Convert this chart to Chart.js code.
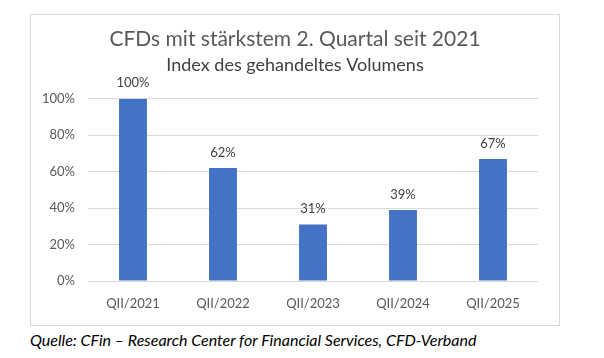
<!DOCTYPE html>
<html>
<head>
<meta charset="utf-8">
<script src="https://cdn.jsdelivr.net/npm/chart.js@4/dist/chart.umd.min.js"></script>
<style>
  body { margin: 0; background: #fff; font-family: Lato, sans-serif; }
  #frame { position: absolute; left: 30px; top: 14px; width: 528px; height: 310px; border: 1px solid #d9d9d9; }
  #source { position: absolute; left: 30px; top: 330px; font-style: italic; font-size: 16px; color: #000; white-space: nowrap; }
</style>
</head>
<body>
<div id="frame"><canvas id="chart-bars" width="528" height="310"></canvas></div>
<div id="source">Quelle: CFin – Research Center for Financial Services, CFD-Verband</div>
<script>
const categories = ['QII/2021', 'QII/2022', 'QII/2023', 'QII/2024', 'QII/2025']
const volumeIndex = [100, 62, 31, 39, 67]
const yTicks = [0, 20, 40, 60, 80, 100]

/* simple value labels above each bar */
const barLabels = {
    id: 'barLabels',
    afterDatasetsDraw(chart) {
        const ctx = chart.ctx
        ctx.save()
        ctx.font = '13px Lato'
        ctx.fillStyle = '#404040'
        ctx.textAlign = 'center'
        ctx.textBaseline = 'bottom'
        chart.getDatasetMeta(0).data.forEach((bar, i) => {
            ctx.fillText(volumeIndex[i] + '%', bar.x, bar.y - 9)
        })
        ctx.restore()
    }
}

new Chart(document.getElementById('chart-bars'), {
    type: 'bar',
    data: {
        labels: categories,
        datasets: [{
            data: volumeIndex,
            backgroundColor: '#4472c4',
            categoryPercentage: 1,
            barPercentage: 0.31
        }]
    },
    options: {
        responsive: false,
        animation: false,
        layout: { padding: { top: 0, right: 0, bottom: 13, left: 0 } },
        plugins: {
            legend: { display: false },
            tooltip: { enabled: false },
            title: {
                display: true,
                text: 'CFDs mit stärkstem 2. Quartal seit 2021',
                color: '#595959',
                font: { family: 'Lato', size: 21, weight: 'normal' },
                padding: { top: 12, bottom: 2 }
            },
            subtitle: {
                display: true,
                text: 'Index des gehandeltes Volumens',
                color: '#404040',
                font: { family: 'Lato', size: 18, weight: 'normal' },
                padding: { top: 0, bottom: 23 }
            }
        },
        scales: {
            x: {
                afterFit: (scale) => { scale.height = 31 },
                grid: { display: false, drawTicks: false },
                border: { display: false },
                ticks: { color: '#595959', font: { family: 'Lato', size: 13 }, padding: 15 }
            },
            y: {
                min: 0,
                max: 100,
                afterFit: (scale) => { scale.width = 57 },
                afterBuildTicks: (scale) => { scale.ticks = yTicks.map(v => ({ value: v })) },
                grid: { color: '#d9d9d9', drawTicks: false },
                border: { display: false },
                ticks: { color: '#595959', font: { family: 'Lato', size: 13 }, padding: 13, callback: v => v + '%' }
            },
            /* empty right axis, keeps the right margin so the title stays centred */
            yRight: {
                position: 'right',
                afterFit: (scale) => { scale.width = 21 },
                grid: { display: false, drawTicks: false },
                border: { display: false },
                ticks: { display: false }
            }
        }
    },
    plugins: [barLabels]
})
</script>
</body>
</html>
